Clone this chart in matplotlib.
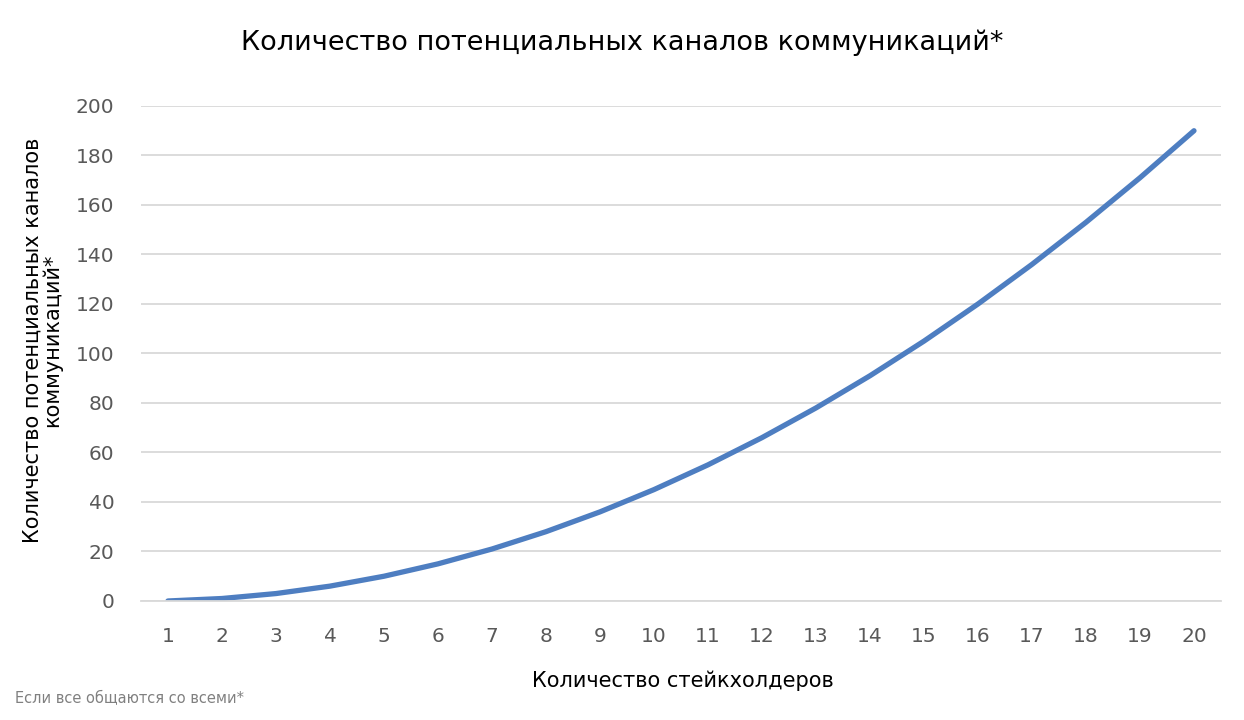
import matplotlib.pyplot as plt

stakeholders = list(range(1, 21))
channels = [0, 1, 3, 6, 10, 15, 21, 28, 36, 45, 55, 66, 78, 91, 105, 120, 136, 153, 171, 190]
y_ticks = [0, 20, 40, 60, 80, 100, 120, 140, 160, 180, 200]

title = 'Количество потенциальных каналов коммуникаций*'
x_label = 'Количество стейкхолдеров'
y_label = 'Количество потенциальных каналов\nкоммуникаций*'
footnote = 'Если все общаются со всеми*'

plt.rcParams['font.family'] = ['DejaVu Sans']

fig = plt.figure(figsize=(12.44, 7.2), dpi=100)
ax = fig.add_axes([0.1133, 0.1653, 0.8682, 0.6875])

ax.plot(stakeholders, channels, color='#4E7EC1', linewidth=3.8, solid_capstyle='round')

ax.set_xlim(0.5, 20.5)
ax.set_ylim(0, 200)
ax.set_xticks(stakeholders)
ax.set_yticks(y_ticks)
ax.grid(axis='y', color='#D9D9D9', linewidth=1.3)
ax.set_axisbelow(True)
for s in ['top', 'right', 'left']:
    ax.spines[s].set_visible(False)
ax.spines['bottom'].set_color('#D9D9D9')
ax.spines['bottom'].set_linewidth(1.3)
ax.tick_params(length=0, labelsize=14.5, labelcolor='#595959')
ax.tick_params(axis='x', pad=19)
ax.tick_params(axis='y', pad=19)

fig.text(0.5, 0.94, title, ha='center', va='center', fontsize=19.5, color='black')
fig.text(0.549, 0.054, x_label, ha='center', va='center', fontsize=15, color='black')
fig.text(0.034, 0.528, y_label, ha='center', va='center', rotation=90,
         fontsize=15, color='black', linespacing=1.0)
fig.text(0.012, 0.029, footnote, ha='left', va='center', fontsize=10.5, color='#808080')

fig.savefig('out.png', dpi=100)
